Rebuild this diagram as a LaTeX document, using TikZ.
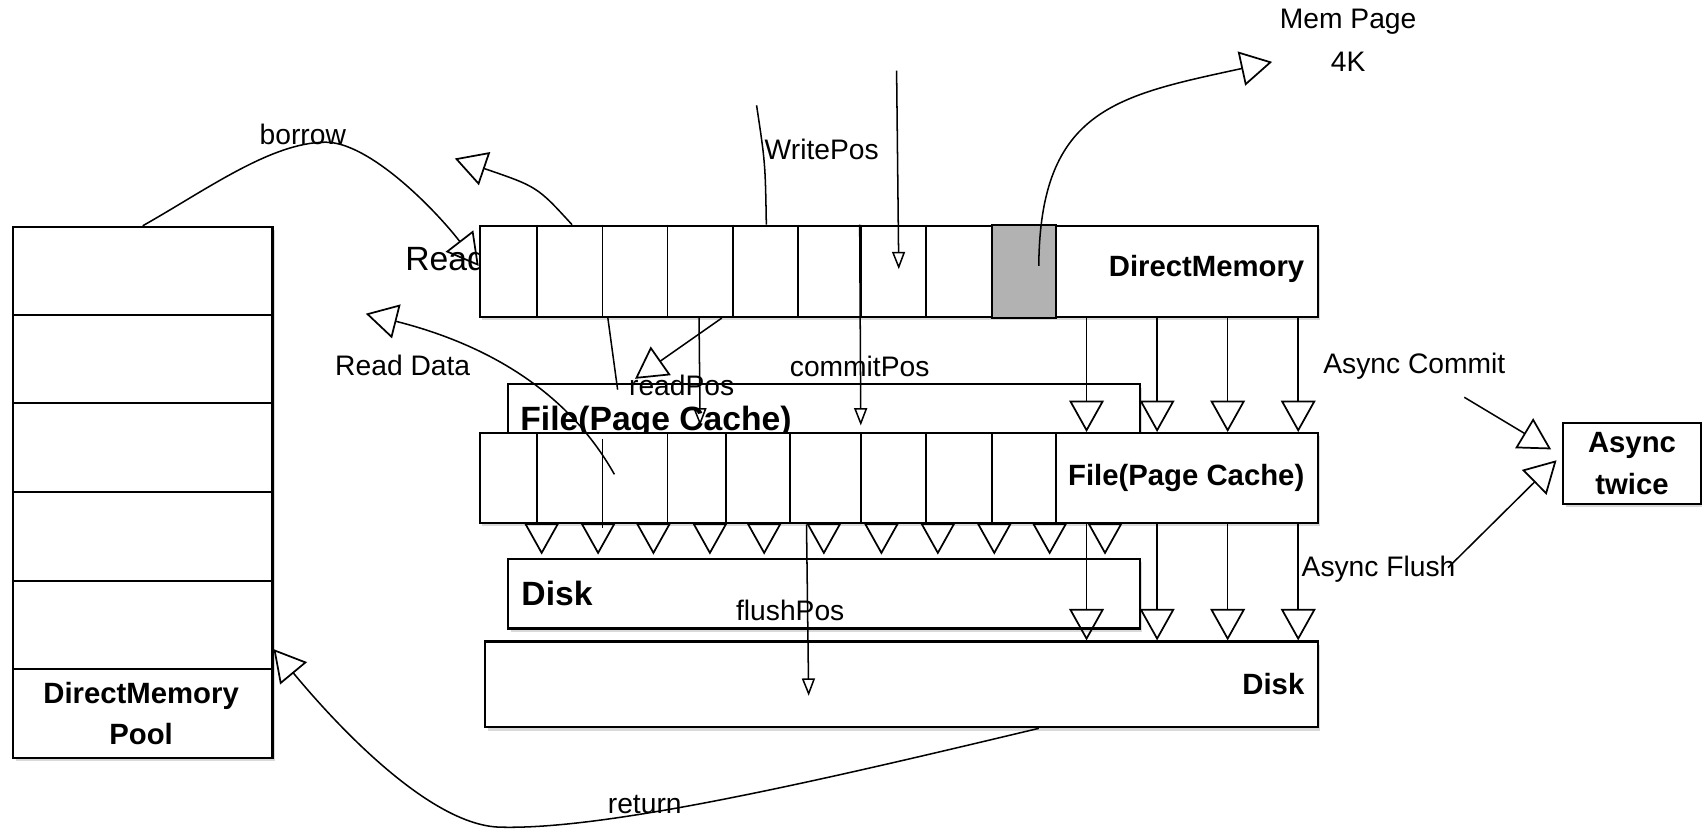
\documentclass[tikz,border=0pt]{standalone}
\usepackage{fontspec}
\setmainfont{Liberation Sans}
\usetikzlibrary{arrows.meta,shadows,calc}
\definecolor{pagegray}{RGB}{178,178,178}

\begin{document}
\begin{tikzpicture}[x=0.5pt,y=-0.5pt,
  box/.style={draw,line width=1pt,fill=white,inner sep=0pt,anchor=north west,
    drop shadow={shadow xshift=1.2pt,shadow yshift=-1.5pt,opacity=0.3}},
  divider/.style={line width=0.8pt},
  lbl/.style={font=\fontsize{13}{16}\selectfont,inner sep=0pt},
  blbl/.style={font=\bfseries\fontsize{13.5}{19}\selectfont,inner sep=0pt,align=center},
  biglbl/.style={font=\bfseries\fontsize{15.5}{18}\selectfont,inner sep=0pt},
  bigarrow/.style={line width=0.7pt,-{Triangle[open,length=14.5pt,width=16pt,line width=0.8pt]}},
  smallarrow/.style={line width=0.7pt,-{Triangle[open,length=8pt,width=6pt]}}]
\useasboundingbox (0,0) rectangle (1568,766);

% text that the memory strip covers
\node[font=\fontsize{15.5}{18}\selectfont,anchor=west,inner sep=0pt] (readlbl) at (373,238) {Read};

% pool
\node[box,minimum width=119.5pt,minimum height=244.5pt] (pool) at (11,208) {};
\foreach \y in {290,371,453,535,616}
  \draw[divider] (pool.west |- 0,\y) -- (pool.east |- 0,\y);
\node[blbl] (poollbl) at (130,657) {DirectMemory\\Pool};

% boxes behind
\node[box,minimum width=291pt,minimum height=30pt] (fcback) at (467,353) {};
\node[biglbl,anchor=west] (fcbacklbl) at (479,389) {File(Page Cache)};
\node[box,minimum width=291pt,minimum height=32pt] (diskback) at (467,514) {};
\node[biglbl,anchor=west] (diskbacklbl) at (480,547) {Disk};

% direct memory
\node[box,minimum width=386pt,minimum height=42pt] (dm) at (441,207) {};
\draw[divider,fill=pagegray] (914,0 |- dm.north) rectangle (973,0 |- dm.south);
\foreach \x in {495,555,615,675,735,793,853}
  \draw[divider] (\x,0 |- dm.north) -- (\x,0 |- dm.south);
\node[blbl,anchor=east] (dmlbl) at (1202,248) {DirectMemory};

% page cache
\node[box,minimum width=386pt,minimum height=41.5pt] (fc) at (441,398) {};
\draw[divider] (555,404) -- (555,486);
\foreach \x in {495,615,669,728,793,853,914,973}
  \draw[divider] (\x,0 |- fc.north) -- (\x,0 |- fc.south);
\node[blbl,anchor=east] (fclbl) at (1202,440) {File(Page Cache)};

% disk
\node[box,minimum width=383.5pt,minimum height=39.5pt] (disk) at (446,590) {};
\node[blbl,anchor=east] (disklbl) at (1202,630) {Disk};

\node[box,minimum width=63.5pt,minimum height=37pt] (twice) at (1439,389) {};
\node[blbl] (twicelbl) at (twice.center) {Async\\twice};

% labels
\node[lbl] (borrowlbl) at (279,124) {borrow};
\node[lbl] (wplbl) at (757,138) {WritePos};
\node[lbl] (memlbl) at (1242,20) {Mem Page};
\node[lbl] (kblbl) at (1242,57) {4K};
\node[lbl] (rdlbl) at (371,337) {Read Data};
\node[lbl] (rplbl) at (628,355) {readPos};
\node[lbl] (cplbl) at (792,338) {commitPos};
\node[lbl] (aclbl) at (1303,337) {Async Commit};
\node[lbl] (aflbl) at (1270,524) {Async Flush};
\node[lbl] (fplbl) at (728,562) {flushPos};
\node[lbl] (retlbl) at (594,741) {return};

% free ends
\coordinate (uptip) at (419,146);
\coordinate (wptop) at (697,97);
\coordinate (wtop) at (826,65);
\coordinate (wend) at (828,248);
\coordinate (memstart) at (957,245);
\coordinate (memtip) at (1172,57);
\coordinate (rdstart) at (566,437);
\coordinate (rdtip) at (337,289);
\coordinate (rptip) at (585,349);
\coordinate (rpend) at (569,359);
\coordinate (rpmark) at (645,392);
\coordinate (cptip) at (793,392);
\coordinate (fptip) at (745,641);
\coordinate (acstart) at (1349,366);
\coordinate (actip) at (1429,414);
\coordinate (afstart) at (1334,523);
\coordinate (aftip) at (1434,424);

% connectors
\draw[bigarrow] (pool.north) .. controls (190,175) and (250,131) .. (300,131)
  .. controls (340,131) and (400,192) .. ($(dm.west)+(0,-5)$);
\draw[bigarrow] (527,0 |- dm.north) .. controls (495,172) .. (uptip);
\draw[line width=0.7pt] (wptop) .. controls (705,150) .. (706,0 |- dm.north);
\draw[smallarrow] (wtop) -- (wend);
\draw[bigarrow] (memstart) .. controls (958,100) and (1030,88) .. (memtip);
\draw[bigarrow] (rdstart) .. controls (520,355) and (440,315) .. (rdtip);
\draw[bigarrow] (665,0 |- dm.south) -- (rptip);
\draw[line width=0.7pt] (560,0 |- dm.south) -- (rpend);
\draw[smallarrow] (644,0 |- dm.south) -- (rpmark);
\draw[smallarrow] (792,0 |- dm.north) -- (cptip);
\foreach \x in {1001,1066,1131,1196} {
  \draw[bigarrow] (\x,0 |- dm.south) -- (\x,0 |- fc.north);
  \draw[bigarrow] (\x,0 |- fc.south) -- (\x,0 |- disk.north);
}
\foreach \x in {499,551,602,654,704,759,812,864,916,967,1018}
  \draw[bigarrow] (\x,0 |- fc.south) -- (\x,511);
\draw[smallarrow] (743,0 |- fc.south) -- (fptip);
\draw[bigarrow] (acstart) -- (actip);
\draw[bigarrow] (afstart) -- (aftip);
\draw[bigarrow] (957,0 |- disk.south) .. controls (760,718) and (560,765) .. (460,762)
  .. controls (400,760) and (320,680) .. (pool.east |- 0,598);
\end{tikzpicture}
\end{document}
